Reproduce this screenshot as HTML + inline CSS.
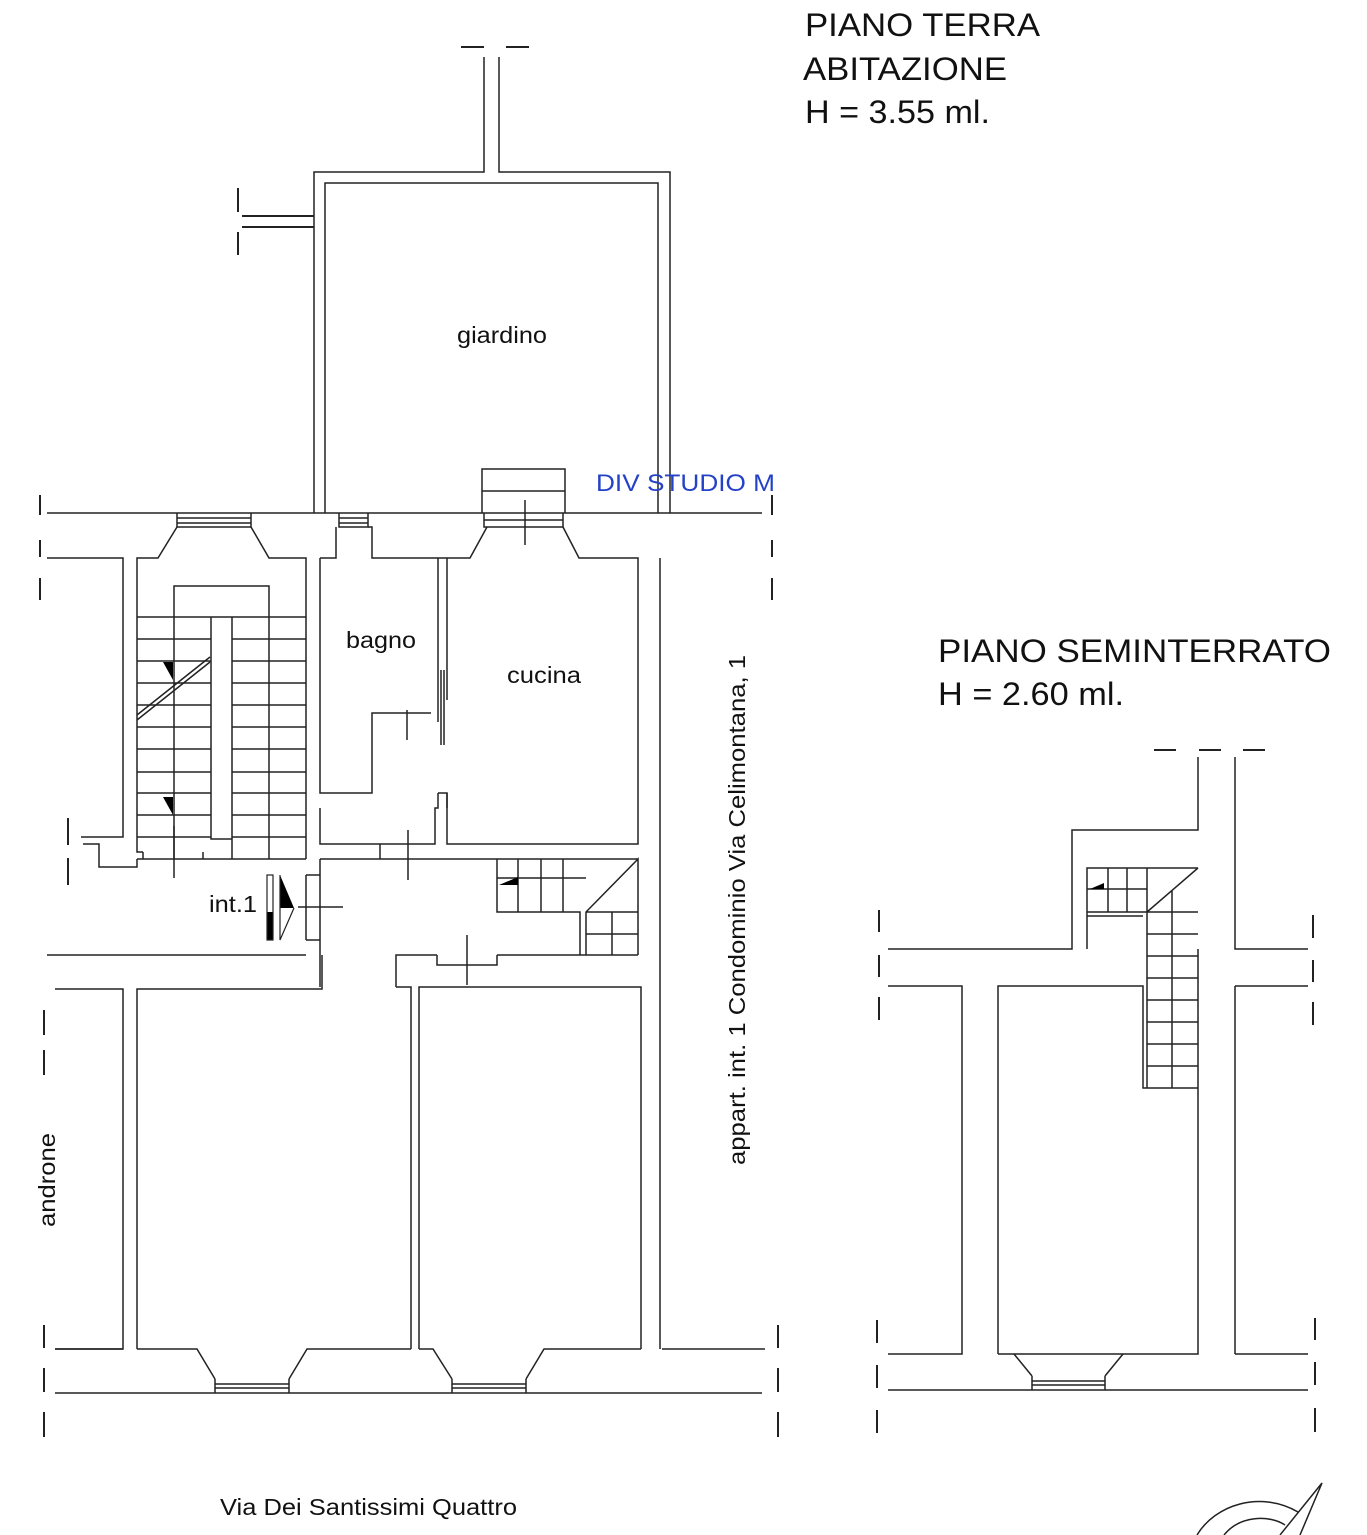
<!DOCTYPE html>
<html><head><meta charset="utf-8"><style>
html,body{margin:0;padding:0;background:#fff;}
svg{display:block}
text{font-family:"Liberation Sans",Arial,sans-serif;fill:#111}
</style></head><body>
<svg width="1367" height="1535" viewBox="0 0 1367 1535" xmlns="http://www.w3.org/2000/svg">
<g fill="none" stroke="#222" stroke-width="1.5">
<path d="M484 57V172H314V513M325 513V183H658V513M670 513V172H499V57"/>
<path d="M461 47H484M506 47H529" stroke-width="2"/>
<path d="M242 216H314M242 227H314M238 188V212M238 232V255" stroke-width="2"/>
<path d="M47 513H762"/>
<path d="M40 495V515M40 540V557M40 578V600M772 495V515M772 540V557M772 578V600" stroke-width="2"/>
<path d="M482 513V469H565V513M482 491H565M484 513V527H563V513M484 520H563M525 500V545"/>
<path d="M177 513V527H251V513M177 518H251M177 523H251"/>
<path d="M339 513V527H368V513M339 518H368M339 523H368"/>
<path d="M47 558H123V837H81M137 837V558H158L177 527M251 527L269 558H306V859"/>
<path d="M320 558H336V527M368 527H372V558H470L487 527M563 527L579 558H638V844H447V793H438"/>
<path d="M320 558V793H372V713H431M320 808V844H380V859M380 844H435V808H438V793M447 793V808"/>
<path d="M438 558V722M447 558V700M441 670V745M444 670V745"/>
<path d="M660 558V1349"/>
<path d="M174 617V586H269V617M137 617H306M211 617V839H232V617M174 617V859M269 617V859M232 839V859"/>
<path d="M137 639H211M137 661H211M137 683H211M137 705H211M137 727H211M137 749H211M137 772H211M137 793H211M137 815H211M137 837H211M232 639H306M232 661H306M232 683H306M232 705H306M232 727H306M232 749H306M232 772H306M232 793H306M232 815H306M232 837H306"/>
<path d="M137 859H306M143 852V859M203 852V859M137 837V852H143M137 720L210 662M137 715L210 657"/>
<path d="M174 826V878M83 844H99V867H137V859"/>
<path d="M68 818V845M68 858V885" stroke-width="2"/>
<path d="M320 859H638M320 859V987M408 830V880M407 710V740"/>
<path d="M306 875H320M306 940H320M306 875V940"/>
<path d="M298 907H343"/>
<path d="M47 955H306M55 989H123V1349H55M137 1349V989H322V955"/>
<path d="M396 987V955H437M497 955H638M437 955V965H497V955M467 935V985"/>
<path d="M396 987H411V1349M419 1349V987H641V1349"/>
<path d="M44 1325V1348M44 1368V1392M44 1412V1437M778 1325V1348M778 1368V1392M778 1412V1437M44 1010V1035M44 1050V1075" stroke-width="2"/>
<path d="M497 859V912H580V955M586 955V912L638 859V955M497 878H586M518 859V912M541 859V912M563 859V912M586 912H638M586 934H638M612 912V955"/>
<path d="M55 1349H123M137 1349H197L215 1379M289 1379L307 1349H411M419 1349H433L452 1379M526 1379L544 1349H641M662 1349H765"/>
<path d="M55 1393H762M215 1379V1393M289 1379V1393M215 1384H289M215 1388H289M452 1379V1393M526 1379V1393M452 1384H526M452 1388H526"/>
<path d="M1154 750H1176M1199 750H1221M1243 750H1265" stroke-width="2"/>
<path d="M888 949H1072V830H1198V757M1235 757V949H1308M888 986H962V1354H888M998 1354V986H1143V1088H1198V949M1235 986H1308M1235 1354V986M1235 1354H1308M998 1354H1198V1088"/>
<path d="M888 1390H1308M1014 1354L1032 1376M1123 1354L1105 1376M1032 1376V1390M1105 1376V1390M1032 1381H1105M1032 1385H1105"/>
<path d="M1087 949V868H1198M1087 912H1147M1108 868V912M1127 868V912M1147 868V1088M1087 889H1147M1087 916H1143M1147 912L1198 868M1172 890V1088M1147 912H1198M1147 934H1198M1147 956H1198M1147 978H1198M1147 1000H1198M1147 1022H1198M1147 1044H1198M1147 1066H1198"/>
<path d="M879 910V932M879 955V977M879 997V1020M1313 915V938M1313 960V982M1313 1002V1025M877 1320V1343M877 1365V1388M877 1410V1433M1315 1318V1340M1315 1362V1385M1315 1408V1432" stroke-width="2"/>
<path d="M1197 1535C1215 1505 1260 1490 1298 1512M1224 1535C1240 1515 1270 1515 1285 1525M1280 1535L1322 1483L1300 1535"/>
</g>
<g fill="#000">
<path d="M163 662L173 662L173 680Z"/>
<path d="M163 797L173 797L173 815Z"/>
<path d="M499 885L518 877V885Z"/>
<path d="M1090 889L1104 883V889Z"/>
<rect x="267" y="912" width="6" height="28"/>
<path d="M280 875L294 908H280Z"/>
</g>
<g fill="none" stroke="#222" stroke-width="1.2">
<rect x="267" y="875" width="6" height="65"/>
<path d="M280 875V940L294 908"/>
</g>
<g font-size="32">
<text x="805" y="36" textLength="235" lengthAdjust="spacingAndGlyphs">PIANO TERRA</text>
<text x="803" y="80" textLength="204" lengthAdjust="spacingAndGlyphs">ABITAZIONE</text>
<text x="805" y="123" textLength="185" lengthAdjust="spacingAndGlyphs">H = 3.55 ml.</text>
<text x="938" y="662" textLength="393" lengthAdjust="spacingAndGlyphs">PIANO SEMINTERRATO</text>
<text x="938" y="705" textLength="186" lengthAdjust="spacingAndGlyphs">H = 2.60 ml.</text>
</g>
<g font-size="23">
<text x="457" y="343" textLength="90" lengthAdjust="spacingAndGlyphs">giardino</text>
<text x="346" y="648" textLength="70" lengthAdjust="spacingAndGlyphs">bagno</text>
<text x="507" y="683" textLength="74" lengthAdjust="spacingAndGlyphs">cucina</text>
<text x="209" y="912" textLength="48" lengthAdjust="spacingAndGlyphs">int.1</text>
<text x="220" y="1515" textLength="297" lengthAdjust="spacingAndGlyphs">Via Dei Santissimi Quattro</text>
<text transform="translate(55,1227) rotate(-90)" textLength="94" lengthAdjust="spacingAndGlyphs">androne</text>
<text transform="translate(745,1165) rotate(-90)" textLength="510" lengthAdjust="spacingAndGlyphs">appart. int. 1 Condominio Via Celimontana, 1</text>
</g>
<text x="596" y="491" font-size="24" textLength="179" lengthAdjust="spacingAndGlyphs" style="fill:#2442c8">DIV STUDIO M</text>
</svg>
</body></html>
